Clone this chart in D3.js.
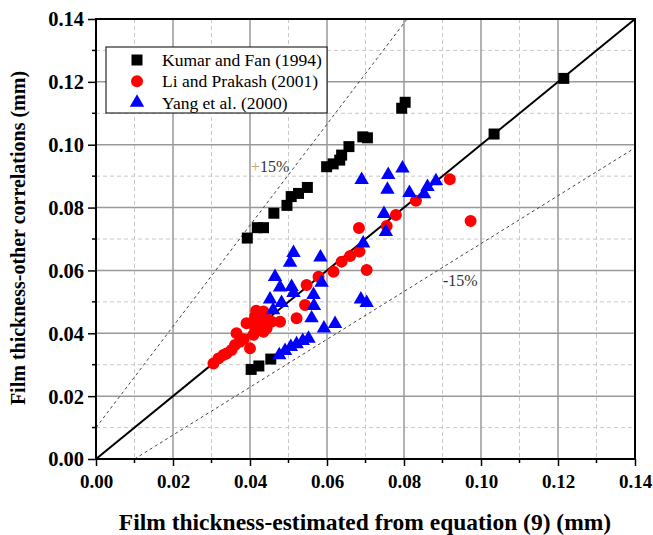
<!DOCTYPE html>
<html>
<head>
<meta charset="utf-8">
<script src="https://cdn.jsdelivr.net/npm/d3@7"></script>
<style>
  body { margin: 0; background: #fff; }
  svg { display: block; }
</style>
</head>
<body>
<div class="chart"></div>
<script>
// data: [estimated, other correlation] in mm
var kumarFan = [
  [0.0393, 0.0703], [0.0419, 0.0736], [0.0435, 0.0736], [0.0462, 0.0782],
  [0.0496, 0.0807], [0.0507, 0.0835], [0.0526, 0.0845], [0.0549, 0.0864],
  [0.0599, 0.0930], [0.0616, 0.0939], [0.0633, 0.0951], [0.0638, 0.0967],
  [0.0657, 0.0994], [0.0693, 0.1025], [0.0705, 0.1022], [0.0794, 0.1116],
  [0.0803, 0.1135], [0.1034, 0.1034], [0.1215, 0.1211],
  [0.0403, 0.0285], [0.0423, 0.0296], [0.0454, 0.0318]
]
var liPrakash = [
  [0.0305, 0.0304], [0.0318, 0.0320], [0.0331, 0.0331], [0.0339, 0.0336],
  [0.0352, 0.0347], [0.0361, 0.0363], [0.0365, 0.0400], [0.0374, 0.0373],
  [0.0383, 0.0381], [0.0391, 0.0432], [0.0400, 0.0352], [0.0409, 0.0395],
  [0.0413, 0.0421], [0.0413, 0.0453], [0.0416, 0.0472], [0.0426, 0.0464],
  [0.0430, 0.0437], [0.0435, 0.0405], [0.0443, 0.0416], [0.0439, 0.0453],
  [0.0448, 0.0442], [0.0456, 0.0437], [0.0478, 0.0437], [0.0435, 0.0469],
  [0.0521, 0.0448], [0.0543, 0.0490], [0.0547, 0.0554], [0.0578, 0.0580],
  [0.0617, 0.0596], [0.0638, 0.0628], [0.0660, 0.0646], [0.0684, 0.0660],
  [0.0683, 0.0735], [0.0703, 0.0601], [0.0755, 0.0741], [0.0779, 0.0776],
  [0.0831, 0.0822], [0.0919, 0.0890], [0.0973, 0.0757]
]
var yangEtAl = [
  [0.0513, 0.0656], [0.0504, 0.0625], [0.0583, 0.0642], [0.0465, 0.0580],
  [0.0478, 0.0546], [0.0508, 0.0548], [0.0513, 0.0529], [0.0452, 0.0508],
  [0.0482, 0.0497], [0.0460, 0.0474], [0.0565, 0.0522], [0.0566, 0.0487],
  [0.0560, 0.0448], [0.0586, 0.0561], [0.0592, 0.0416], [0.0621, 0.0430],
  [0.0688, 0.0508], [0.0703, 0.0497], [0.0694, 0.0686],
  [0.0476, 0.0331], [0.0491, 0.0344], [0.0506, 0.0357], [0.0521, 0.0366],
  [0.0537, 0.0376], [0.0552, 0.0383],
  [0.0690, 0.0888], [0.0759, 0.0904], [0.0757, 0.0857], [0.0796, 0.0925],
  [0.0814, 0.0847], [0.0852, 0.0843], [0.0861, 0.0866], [0.0883, 0.0884],
  [0.0748, 0.0780], [0.0753, 0.0723]
]
var seriesNames = ['Kumar and Fan (1994)', 'Li and Prakash (2001)', 'Yang et al. (2000)']
var majorTicks = [0, 0.02, 0.04, 0.06, 0.08, 0.10, 0.12, 0.14]
var minorTicks = [0.01, 0.03, 0.05, 0.07, 0.09, 0.11, 0.13]
var perfectLine = [[0, 0], [0.14, 0.14]]
var plusLine = [[0, 0.01], [0.0808, 0.14]]
var minusLine = [[0.01, 0], [0.14, 0.099]]

var width = 653, height = 535
var padLeft = 96, padRight = 635, padTop = 19, padBottom = 459

var x = d3.scaleLinear().domain([0, 0.14]).range([padLeft, padRight])
var y = d3.scaleLinear().domain([0, 0.14]).range([padBottom, padTop])

var svg = d3.select('.chart').append('svg')
  .attr('width', width)
  .attr('height', height)
  .style('font-family', '"Liberation Serif", "Times New Roman", serif')

// grid
var grid = svg.append('g')
grid.selectAll('.vminor').data(minorTicks).enter().append('line')
  .attr('x1', d => x(d)).attr('x2', d => x(d)).attr('y1', padTop).attr('y2', padBottom)
  .attr('stroke', '#c8c8c8').attr('stroke-width', 1).attr('stroke-dasharray', '4,3')
grid.selectAll('.hminor').data(minorTicks).enter().append('line')
  .attr('y1', d => y(d)).attr('y2', d => y(d)).attr('x1', padLeft).attr('x2', padRight)
  .attr('stroke', '#c8c8c8').attr('stroke-width', 1).attr('stroke-dasharray', '4,3')
grid.selectAll('.vmajor').data(majorTicks.slice(1, -1)).enter().append('line')
  .attr('x1', d => x(d)).attr('x2', d => x(d)).attr('y1', padTop).attr('y2', padBottom)
  .attr('stroke', '#999').attr('stroke-width', 1.5)
grid.selectAll('.hmajor').data(majorTicks.slice(1, -1)).enter().append('line')
  .attr('y1', d => y(d)).attr('y2', d => y(d)).attr('x1', padLeft).attr('x2', padRight)
  .attr('stroke', '#999').attr('stroke-width', 1.5)

// reference lines
var line = d3.line().x(d => x(d[0])).y(d => y(d[1]))
svg.append('path').attr('d', line(plusLine))
  .attr('fill', 'none').attr('stroke', '#444').attr('stroke-width', 1).attr('stroke-dasharray', '3,3')
svg.append('path').attr('d', line(minusLine))
  .attr('fill', 'none').attr('stroke', '#444').attr('stroke-width', 1).attr('stroke-dasharray', '3,3')
svg.append('path').attr('d', line(perfectLine))
  .attr('fill', 'none').attr('stroke', '#000').attr('stroke-width', 2)

// axes
var xAxis = d3.axisBottom(x).tickValues(majorTicks).tickSize(7).tickFormat(d3.format('.2f'))
var yAxis = d3.axisLeft(y).tickValues(majorTicks).tickSize(8).tickFormat(d3.format('.2f'))
var gx = svg.append('g').attr('transform', 'translate(0,' + padBottom + ')').call(xAxis)
var gy = svg.append('g').attr('transform', 'translate(' + padLeft + ',0)').call(yAxis)
;[gx, gy].forEach(function(g) {
  g.select('.domain').remove()
  g.selectAll('.tick line').attr('stroke', '#000').attr('stroke-width', 1.5)
  g.selectAll('.tick text')
    .style('font-family', '"Liberation Serif", serif')
    .style('font-weight', 'bold')
    .attr('fill', '#000')
})
gx.selectAll('.tick text').style('font-size', '19px').attr('dy', '1.05em').attr('y', 9)
gy.selectAll('.tick text').style('font-size', '20.5px').attr('dy', '0.34em').attr('x', -12)

// minor ticks
svg.append('g').selectAll('line').data(minorTicks).enter().append('line')
  .attr('x1', d => x(d)).attr('x2', d => x(d)).attr('y1', padBottom).attr('y2', padBottom + 4)
  .attr('stroke', '#000').attr('stroke-width', 1.5)
svg.append('g').selectAll('line').data(minorTicks).enter().append('line')
  .attr('y1', d => y(d)).attr('y2', d => y(d)).attr('x1', padLeft).attr('x2', padLeft - 4)
  .attr('stroke', '#000').attr('stroke-width', 1.5)

// frame
svg.append('rect')
  .attr('x', padLeft).attr('y', padTop).attr('width', padRight - padLeft).attr('height', padBottom - padTop)
  .attr('fill', 'none').attr('stroke', '#000').attr('stroke-width', 2)

// points
var squareSym = d3.symbol().type(d3.symbolSquare).size(121)
var circleSym = d3.symbol().type(d3.symbolCircle).size(113)
var triSym = d3.symbol().type(d3.symbolTriangle).size(90)

svg.append('g').selectAll('path').data(kumarFan).enter().append('path')
  .attr('d', squareSym)
  .attr('transform', d => 'translate(' + x(d[0]) + ',' + y(d[1]) + ')')
  .attr('fill', '#000')
svg.append('g').selectAll('path').data(liPrakash).enter().append('path')
  .attr('d', circleSym)
  .attr('transform', d => 'translate(' + x(d[0]) + ',' + y(d[1]) + ')')
  .attr('fill', '#ff0000')
svg.append('g').selectAll('path').data(yangEtAl).enter().append('path')
  .attr('d', triSym)
  .attr('transform', d => 'translate(' + x(d[0]) + ',' + y(d[1]) + ')')
  .attr('fill', '#0000ff')

// +15% / -15% labels
var plusLabel = svg.append('text').attr('x', 251).attr('y', 172)
  .style('font-size', '16px').attr('fill', '#333')
plusLabel.append('tspan').attr('fill', '#c9a86e').text('+')
plusLabel.append('tspan').text('15%')
svg.append('text').attr('x', 443).attr('y', 286)
  .style('font-size', '16px').attr('fill', '#333').text('-15%')

// legend
var legend = svg.append('g')
legend.append('rect').attr('x', 106).attr('y', 47).attr('width', 221).attr('height', 66)
  .attr('fill', '#fff').attr('stroke', '#000').attr('stroke-width', 1)
var legendSyms = [squareSym, circleSym, triSym]
var legendColors = ['#000', '#ff0000', '#0000ff']
seriesNames.forEach(function(name, i) {
  var cy = 60 + i * 21.3
  legend.append('path').attr('d', legendSyms[i])
    .attr('transform', 'translate(137,' + cy + ')')
    .attr('fill', legendColors[i])
  legend.append('text').attr('x', 162).attr('y', cy).attr('dy', '0.35em')
    .style('font-size', '17.5px').attr('fill', '#000').text(name)
})

// axis titles
svg.append('text').attr('x', 365).attr('y', 530)
  .attr('text-anchor', 'middle').style('font-size', '23.5px').style('font-weight', 'bold')
  .text('Film thickness-estimated from equation (9) (mm)')
svg.append('text')
  .attr('transform', 'translate(25,' + 238 + ') rotate(-90)')
  .attr('text-anchor', 'middle').style('font-size', '20px').style('font-weight', 'bold')
  .text('Film thickness-other correlations (mm)')
</script>
</body>
</html>
